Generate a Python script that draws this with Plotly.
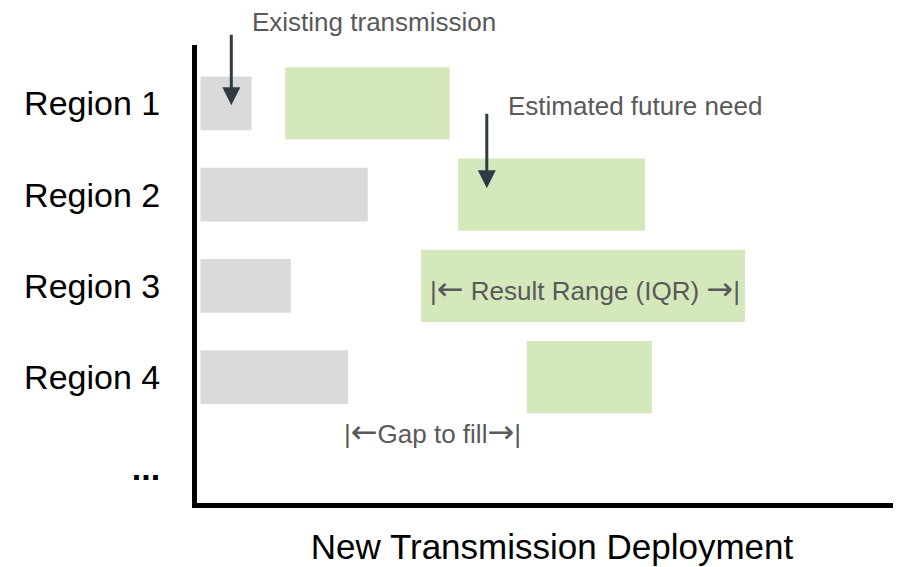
import plotly.graph_objects as go

regions = ["Region 1", "Region 2", "Region 3", "Region 4"]
existing = [7.3, 23.9, 12.9, 21.1]
need_low = [12.6, 37.3, 32.0, 47.1]
need_high = [36.1, 64.0, 78.3, 65.0]
categories = regions + ["..."]
tick_labels = regions + ["<b>...</b>"]

FONT = "Liberation Sans, Arial, sans-serif"
GREY_TXT = "#595959"
ARROW = "#2E3B45"
ARR_L = '<span style="font-family:DejaVu Sans;font-size:32px">\u2190</span>'
ARR_R = '<span style="font-family:DejaVu Sans;font-size:32px">\u2192</span>'

fig = go.Figure()

fig.add_trace(go.Bar(
    y=regions, x=existing, base=0.5, orientation="h",
    width=0.59, marker=dict(color="#D9DADC", line=dict(width=0)),
    name="Existing transmission", hoverinfo="skip"
))
fig.add_trace(go.Bar(
    y=regions, x=[h - l for l, h in zip(need_low, need_high)], base=need_low,
    orientation="h", width=0.79,
    marker=dict(color="#D4E8BB", line=dict(width=0)),
    name="Estimated future need", hoverinfo="skip"
))

annotations = [
    # labels
    dict(text="Existing transmission", xref="x", yref="paper", x=7.5, y=1.05,
         xanchor="left", yanchor="middle", showarrow=False,
         font=dict(size=26, color=GREY_TXT)),
    dict(text="Estimated future need", xref="x", yref="y", x=62.6, y=0.03,
         showarrow=False, font=dict(size=26, color=GREY_TXT)),
    dict(text="|" + ARR_L + " Result Range (IQR) " + ARR_R + "|", xref="x", yref="y",
         x=55.4, y=2.03, showarrow=False, font=dict(size=26, color=GREY_TXT)),
    dict(text="|" + ARR_L + "Gap to fill" + ARR_R + "|", xref="x", yref="y",
         x=33.7, y=3.6, showarrow=False, font=dict(size=26, color=GREY_TXT)),
    # pointer arrows
    dict(text="", xref="x", yref="y", x=4.9, y=0.02, ax=0, ay=-72,
         showarrow=True, arrowhead=2, arrowsize=1.2, arrowwidth=3, arrowcolor=ARROW),
    dict(text="", xref="x", yref="y", x=41.4, y=0.93, ax=0, ay=-76,
         showarrow=True, arrowhead=2, arrowsize=1.2, arrowwidth=3, arrowcolor=ARROW),
    # x axis arrow tip
    dict(text="", xref="paper", yref="paper", x=1.0, y=0, ax=-12, ay=0,
         showarrow=True, arrowhead=2, arrowsize=0.5, arrowwidth=5, arrowcolor="black"),
]

fig.update_layout(
    width=901, height=567,
    margin=dict(l=189, r=2, t=37, b=72),
    paper_bgcolor="white", plot_bgcolor="white",
    barmode="overlay", showlegend=False,
    font=dict(family=FONT, color="black"),
    annotations=annotations,
)
fig.update_xaxes(
    range=[0, 101.43], showgrid=False, zeroline=False, showticklabels=False,
    showline=True, linecolor="black", linewidth=5, automargin=False,
    title=dict(text="New Transmission Deployment", font=dict(size=35, color="black"), standoff=29),
)
fig.update_yaxes(
    type="category", categoryorder="array", categoryarray=categories,
    tickvals=categories, ticktext=tick_labels,
    range=[4.38, -0.64], showgrid=False, zeroline=False, automargin=False,
    showline=True, linecolor="black", linewidth=5,
    tickfont=dict(size=34, color="black"), ticklabelstandoff=25,
    ticks="",
)

fig.write_html("out.html")
